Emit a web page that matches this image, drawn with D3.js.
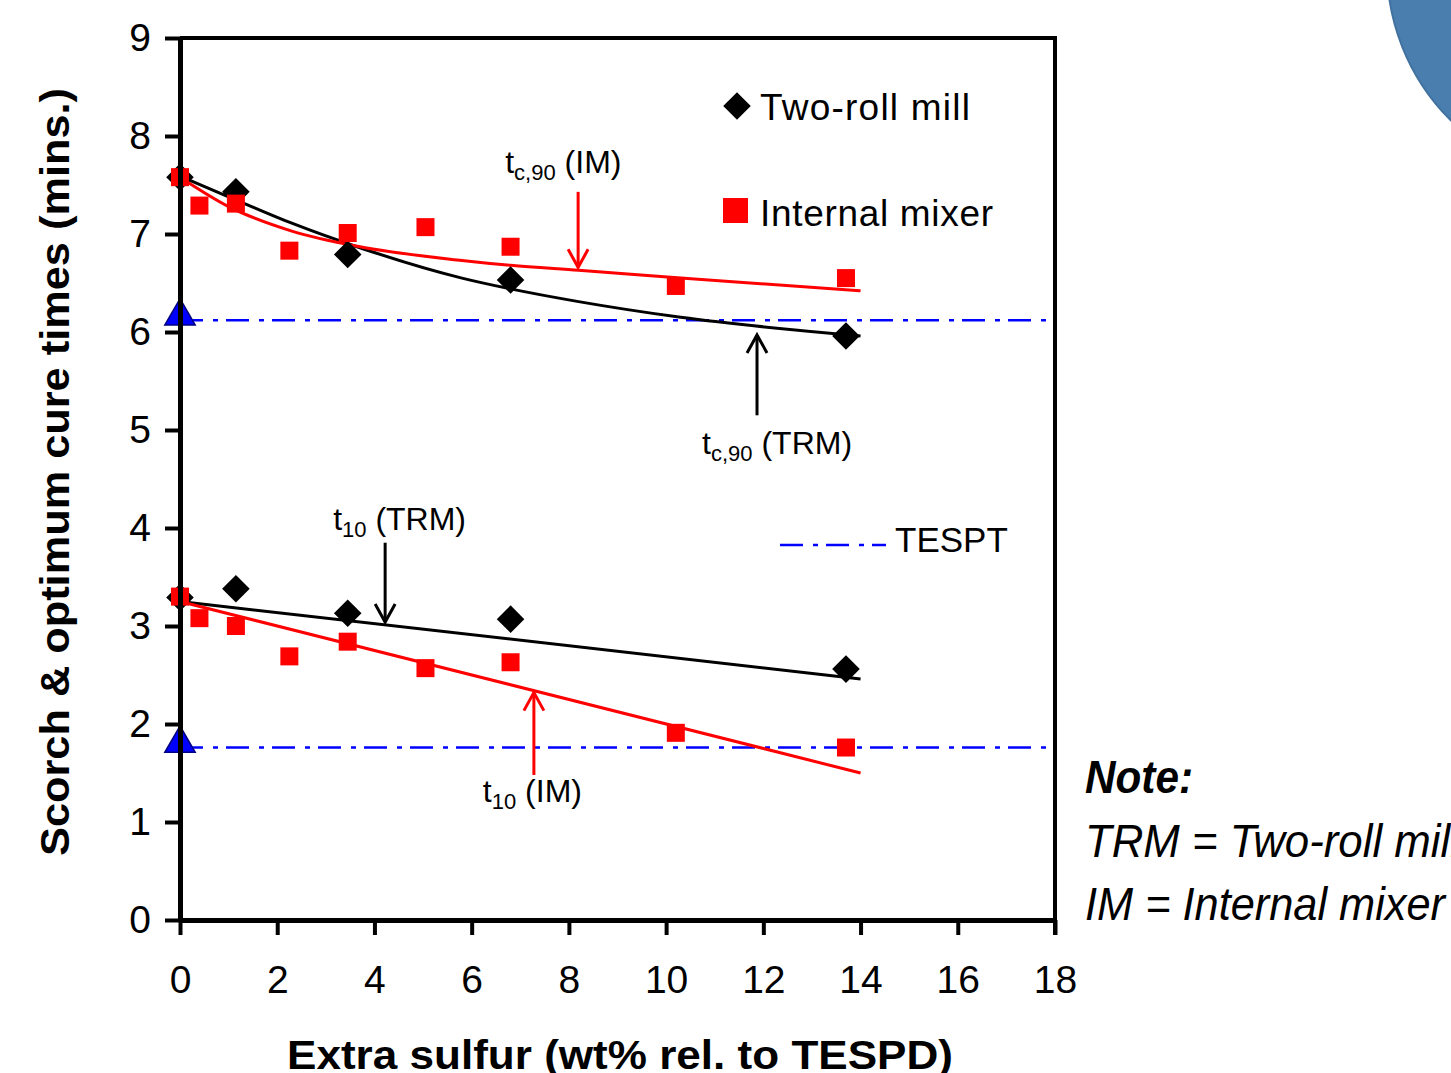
<!DOCTYPE html>
<html>
<head>
<meta charset="utf-8">
<script src="https://cdn.jsdelivr.net/npm/d3@7"></script>
<style>
	html, body { margin: 0; padding: 0; background: #fff; }
	svg { display: block; font-family: "Liberation Sans", Arial, sans-serif; }
</style>
</head>
<body>
<svg id="chart" width="1451" height="1073"></svg>
<script>
(function(d3) {
	'use strict';

	/** data */
	var sulfurTRM = [0, 1.15, 3.45, 6.8, 13.7];
	var tc90TRM = [7.58, 7.43, 6.79, 6.53, 5.96];
	var t10TRM = [3.29, 3.38, 3.13, 3.07, 2.56];

	var sulfurIM = [0, 0.4, 1.15, 2.25, 3.45, 5.05, 6.8, 10.2, 13.7];
	var tc90IM = [7.58, 7.29, 7.31, 6.83, 7.01, 7.07, 6.87, 6.47, 6.55];
	var t10IM = [3.30, 3.08, 3.00, 2.69, 2.84, 2.57, 2.63, 1.91, 1.76];

	var tesptSulfur = [0, 0];
	var tesptTimes = [6.12, 1.76];

	// trend lines
	var fitSulfur = [0, 1, 2.3, 3.7, 5.8, 6.8, 8.2, 10.3, 14];
	var tc90TRMFit = [7.59, 7.38, 7.11, 6.86, 6.55, 6.44, 6.31, 6.15, 5.96];
	var tc90IMFit = [7.58, 7.28, 7.03, 6.87, 6.73, 6.68, 6.63, 6.55, 6.42];
	var lineSulfur = [0, 14];
	var t10TRMFit = [3.25, 2.46];
	var t10IMFit = [3.25, 1.50];

	var xTicks = [0, 2, 4, 6, 8, 10, 12, 14, 16, 18];
	var yTicks = [0, 1, 2, 3, 4, 5, 6, 7, 8, 9];

	var notes = [
		{ x: 8.19, from: 7.43, to: 6.66, color: 'red', lx: 6.69, ly: 7.62, sub: 'c,90', rest: ' (IM)' },
		{ x: 11.87, from: 5.15, to: 5.97, color: 'black', lx: 10.74, ly: 4.76, sub: 'c,90', rest: ' (TRM)' },
		{ x: 4.22, from: 3.85, to: 3.04, color: 'black', lx: 3.15, ly: 3.98, sub: '10', rest: ' (TRM)' },
		{ x: 7.28, from: 1.48, to: 2.32, color: 'red', lx: 6.23, ly: 1.20, sub: '10', rest: ' (IM)' }
	];

	var svg = d3.select('#chart');
	var x = d3.scaleLinear().domain([0, 18]).range([180, 1055]);
	var y = d3.scaleLinear().domain([0, 9]).range([920, 38]);

	var zip = function(xs, ys) {
		return xs.map(function(v, i) { return [v, ys[i]]; });
	};

	/** decoration at the top right */
	svg.append('circle').attr('cx', 1603).attr('cy', -33).attr('r', 216)
		.attr('fill', '#4a7eaf').attr('stroke', '#42729f').attr('stroke-width', 2);

	/** TESPT reference lines */
	var dash = '23,10,5,8';
	svg.selectAll('.tespt').data(tesptTimes).enter().append('line')
		.attr('x1', x(0)).attr('x2', x(18))
		.attr('y1', function(d) { return y(d); }).attr('y2', function(d) { return y(d); })
		.attr('stroke', '#0000ff').attr('stroke-width', 2.5).attr('stroke-dasharray', dash);

	/** trend lines */
	var curve = d3.line().x(function(d) { return x(d[0]); }).y(function(d) { return y(d[1]); })
		.curve(d3.curveMonotoneX);
	var drawFit = function(pts, color) {
		svg.append('path').datum(pts).attr('d', curve)
			.attr('fill', 'none').attr('stroke', color).attr('stroke-width', 3);
	};
	drawFit(zip(fitSulfur, tc90TRMFit), 'black');
	drawFit(zip(fitSulfur, tc90IMFit), 'red');
	drawFit(zip(lineSulfur, t10TRMFit), 'black');
	drawFit(zip(lineSulfur, t10IMFit), 'red');

	/** markers */
	var diamond = d3.symbol().type(d3.symbolSquare).size(380);
	var drawDiamonds = function(pts) {
		svg.append('g').selectAll('path').data(pts).enter().append('path')
			.attr('d', diamond)
			.attr('transform', function(d) { return 'translate(' + x(d[0]) + ',' + y(d[1]) + ') rotate(45)'; })
			.attr('fill', 'black');
	};
	var drawSquares = function(pts) {
		svg.append('g').selectAll('rect').data(pts).enter().append('rect')
			.attr('x', function(d) { return x(d[0]) - 9; })
			.attr('y', function(d) { return y(d[1]) - 9; })
			.attr('width', 18).attr('height', 18)
			.attr('fill', 'red');
	};
	drawDiamonds(zip(sulfurTRM, tc90TRM));
	drawDiamonds(zip(sulfurTRM, t10TRM));
	drawSquares(zip(sulfurIM, tc90IM));
	drawSquares(zip(sulfurIM, t10IM));

	var triangle = d3.symbol().type(d3.symbolTriangle).size(400);
	svg.append('g').selectAll('path').data(zip(tesptSulfur, tesptTimes)).enter().append('path')
		.attr('d', triangle)
		.attr('transform', function(d) { return 'translate(' + x(d[0]) + ',' + (y(d[1]) - 4) + ')'; })
		.attr('fill', '#0000ff').attr('stroke', '#000080').attr('stroke-width', 1.5);

	/** axes */
	var xAxis = svg.append('g').attr('transform', 'translate(0,' + y(0) + ')')
		.call(d3.axisBottom(x).tickValues(xTicks).tickSize(15).tickSizeOuter(0).tickPadding(30));
	var yAxis = svg.append('g').attr('transform', 'translate(' + x(0) + ',0)')
		.call(d3.axisLeft(y).tickValues(yTicks).tickSize(15).tickSizeOuter(0).tickPadding(14));
	[xAxis, yAxis].forEach(function(g) {
		g.select('.domain').attr('stroke', 'black').attr('stroke-width', 5);
		g.selectAll('.tick line').attr('stroke', 'black').attr('stroke-width', 4);
		g.selectAll('.tick text').attr('font-size', 39).attr('fill', 'black')
			.attr('font-family', '"Liberation Sans", Arial, sans-serif');
	});
	svg.append('line').attr('x1', x(0)).attr('x2', x(18)).attr('y1', y(9)).attr('y2', y(9))
		.attr('stroke', 'black').attr('stroke-width', 4);
	svg.append('line').attr('x1', x(18)).attr('x2', x(18)).attr('y1', y(9) - 2).attr('y2', y(0) + 15)
		.attr('stroke', 'black').attr('stroke-width', 4);

	svg.append('text').attr('x', 620).attr('y', 1069).attr('text-anchor', 'middle')
		.attr('font-size', 40).attr('font-weight', 'bold')
		.attr('textLength', 666).attr('lengthAdjust', 'spacingAndGlyphs')
		.text('Extra sulfur (wt% rel. to TESPD)');
	svg.append('text').attr('transform', 'translate(69,472) rotate(-90)').attr('text-anchor', 'middle')
		.attr('font-size', 40).attr('font-weight', 'bold')
		.attr('textLength', 768).attr('lengthAdjust', 'spacingAndGlyphs')
		.text('Scorch & optimum cure times (mins.)');

	/** arrows with labels */
	notes.forEach(function(n) {
		var ax = x(n.x), y0 = y(n.from), y1 = y(n.to);
		var dir = y1 > y0 ? -1 : 1;
		svg.append('line').attr('x1', ax).attr('x2', ax).attr('y1', y0).attr('y2', y1)
			.attr('stroke', n.color).attr('stroke-width', 3);
		svg.append('path')
			.attr('d', 'M' + (ax - 10) + ',' + (y1 + dir * 18) + 'L' + ax + ',' + y1 + 'L' + (ax + 10) + ',' + (y1 + dir * 18))
			.attr('fill', 'none').attr('stroke', n.color).attr('stroke-width', 3);
		var t = svg.append('text').attr('x', x(n.lx)).attr('y', y(n.ly)).attr('font-size', 32).attr('fill', 'black');
		t.append('tspan').text('t');
		t.append('tspan').attr('font-size', 22).attr('dy', 7).text(n.sub);
		t.append('tspan').attr('dy', -7).text(n.rest);
	});

	/** legend */
	svg.append('path').attr('d', diamond)
		.attr('transform', 'translate(737,106) rotate(45)').attr('fill', 'black');
	svg.append('text').attr('x', 760).attr('y', 120).attr('font-size', 37)
		.attr('textLength', 210).attr('lengthAdjust', 'spacing').text('Two-roll mill');
	svg.append('rect').attr('x', 723).attr('y', 198).attr('width', 25).attr('height', 25).attr('fill', 'red');
	svg.append('text').attr('x', 760).attr('y', 226).attr('font-size', 37)
		.attr('textLength', 233).attr('lengthAdjust', 'spacing').text('Internal mixer');
	svg.append('line').attr('x1', 780).attr('x2', 886).attr('y1', 545).attr('y2', 545)
		.attr('stroke', '#0000ff').attr('stroke-width', 2.5).attr('stroke-dasharray', dash);
	svg.append('text').attr('x', 895).attr('y', 552).attr('font-size', 35).text('TESPT');

	/** note */
	svg.append('text').attr('x', 1085).attr('y', 793).attr('font-size', 46)
		.attr('font-style', 'italic').attr('font-weight', 'bold')
		.attr('textLength', 108).attr('lengthAdjust', 'spacingAndGlyphs').text('Note:');
	svg.append('text').attr('x', 1085).attr('y', 857).attr('font-size', 46).attr('font-style', 'italic')
		.attr('textLength', 375).attr('lengthAdjust', 'spacingAndGlyphs').text('TRM = Two-roll mill');
	svg.append('text').attr('x', 1085).attr('y', 920).attr('font-size', 46).attr('font-style', 'italic')
		.attr('textLength', 360).attr('lengthAdjust', 'spacingAndGlyphs').text('IM = Internal mixer');
})(d3);
</script>
</body>
</html>
